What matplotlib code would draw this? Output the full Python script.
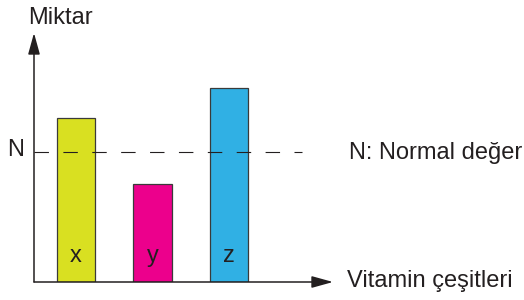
import matplotlib
matplotlib.use("Agg")
import matplotlib.pyplot as plt

plt.rcParams['font.family'] = ['Liberation Sans', 'DejaVu Sans']
plt.rcParams['lines.scale_dashes'] = False

# data (units: N = 5)
categories = ['x', 'y', 'z']
amounts = [6.31, 3.77, 7.48]
normal_value = 5.0
bar_colors = ['#d9e021', '#ec008c', '#30b0e4']

ink = '#231f20'
W, H = 524, 300

fig = plt.figure(figsize=(W / 100, H / 100), dpi=100)
# origin at (34, 282) px, arrow tips at x=333 and y=33
ax = fig.add_axes([34 / W, 18 / H, 299 / W, 249 / H])
ax.set_xlim(-0.55, 3.36)
ax.set_ylim(0, 9.58)
ax.axis('off')

pos = range(len(categories))
ax.bar(pos, amounts, width=0.5, color=bar_colors, edgecolor='#3a3a3a',
       linewidth=0.9, zorder=2)
for i, c in zip(pos, categories):
    ax.text(i, 0.77, c, ha='center', va='baseline', fontsize=17,
            color=ink, zorder=4)

# normal level
ax.axhline(normal_value, xmin=0, xmax=0.896, color=ink, linewidth=0.8,
           linestyle=(0, (10.4, 10.4)), zorder=3)

# axes with arrows
arrow = dict(arrowstyle='-|>,head_length=1.3,head_width=0.36',
             color=ink, linewidth=1.1, shrinkA=0, shrinkB=0,
             mutation_scale=10)
ax.annotate('', xy=(1, 0), xytext=(0, 0), xycoords='axes fraction',
            arrowprops=arrow, zorder=5)
ax.annotate('', xy=(0, 1), xytext=(0, 0), xycoords='axes fraction',
            arrowprops=arrow, zorder=5)

fs = 17
fig.text(28 / W, 1 - 24 / H, 'Miktar', fontsize=fs, color=ink, va='baseline')
fig.text(7 / W, 1 - 156 / H, 'N', fontsize=fs, color=ink, va='baseline')
fig.text(349 / W, 1 - 159 / H, 'N: Normal değer', fontsize=fs, color=ink,
         va='baseline')
fig.text(347 / W, 1 - 287 / H, 'Vitamin çeşitleri', fontsize=fs, color=ink,
         va='baseline')

fig.savefig('out.png', dpi=100, facecolor='white')
